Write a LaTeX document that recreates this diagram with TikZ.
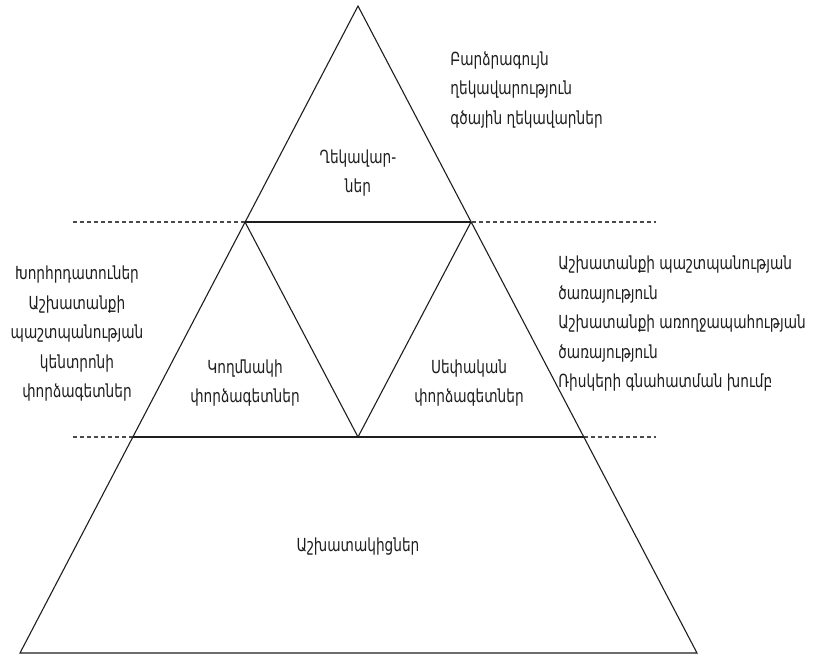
\documentclass[tikz,border=0pt]{standalone}
\usepackage{fontspec}
\setmainfont{DejaVu Sans}[FakeStretch=0.76]
\usetikzlibrary{positioning}
\definecolor{ink}{HTML}{1E1E1E}
\definecolor{guidec}{HTML}{4A4A4A}
\tikzset{
  edge/.style={draw=ink,line width=0.55pt,line join=miter},
  tier/.style={draw=ink,line width=1pt},
  guide/.style={draw=guidec,line width=0.6pt,dash pattern=on 2pt off 1.5pt},
  lab/.style={font=\fontsize{9}{14.75}\selectfont,text=ink,align=center,inner sep=0pt},
  side/.style={lab,align=left},
}
\begin{document}
\begin{tikzpicture}[x=0.5pt,y=-0.5pt]
\useasboundingbox (0,0) rectangle (819,659);
% pyramid corners
\coordinate (apex) at (358,6);
\coordinate (bl) at (20,653);
\coordinate (br) at (697,653);
\coordinate (ul) at (245,222);
\coordinate (ur) at (471,222);
\coordinate (ll) at (133,437);
\coordinate (lr) at (584,437);
\coordinate (mid) at (358,437);
% guide lines
\coordinate (g1l) at (73,222);
\coordinate (g1r) at (656,222);
\coordinate (g2l) at (73,437);
\coordinate (g2r) at (656,437);
\draw[guide] (g1l) -- (g1r);
\draw[guide] (g2l) -- (g2r);
% outline
\draw[edge] (apex) -- (br) -- (bl) -- cycle;
\draw[edge] (ul) -- (mid) -- (ur);
\draw[tier] (ul) -- (ur);
\draw[tier] (ll) -- (lr);
% levels
\node[lab] (lead) at (358,173) {Ղեկավար-\\ներ};
\node[lab] (outx) at (245,383) {Կողմնակի\\փորձագետներ};
\node[lab] (ownx) at (469,383) {Սեփական\\փորձագետներ};
\node[lab] (staff) at (358,547) {Աշխատակիցներ};
% side notes
\node[side,anchor=west] (topnote) at (450,90) {Բարձրագույն\\ղեկավարություն\\գծային ղեկավարներ};
\node[lab] (leftnote) at (77,334) {Խորհրդատուներ\\Աշխատանքի\\պաշտպանության\\կենտրոնի\\փորձագետներ};
\node[side,anchor=west] (rightnote) at (558,324) {Աշխատանքի պաշտպանության\\ծառայություն\\Աշխատանքի առողջապահության\\ծառայություն\\Ռիսկերի գնահատման խումբ};
\end{tikzpicture}
\end{document}
